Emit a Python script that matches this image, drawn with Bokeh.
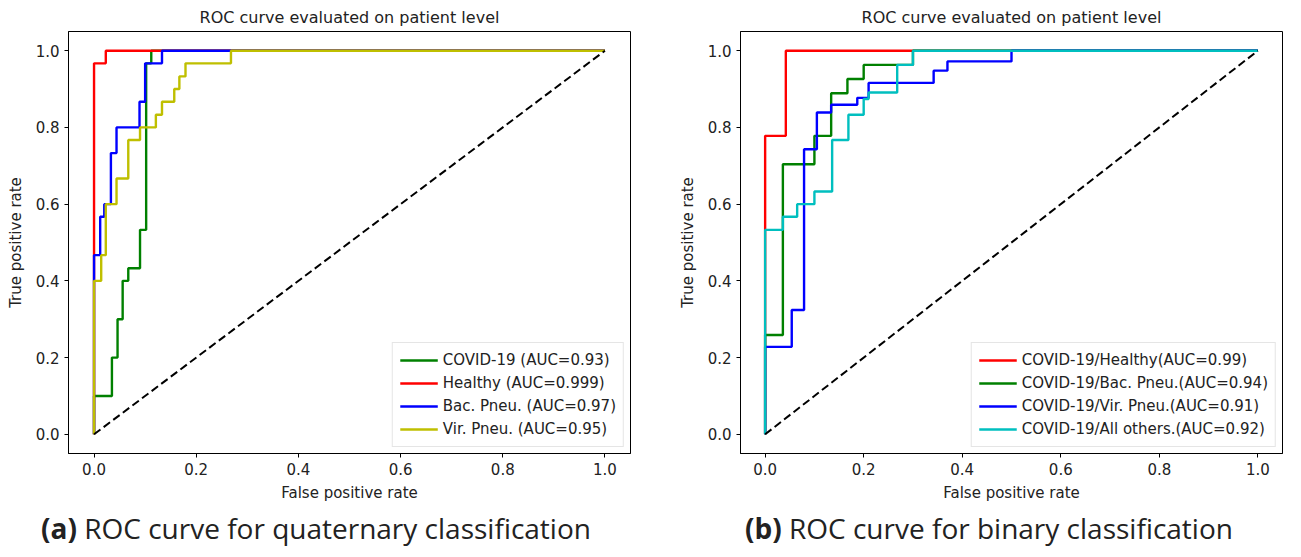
from bokeh.plotting import figure
from bokeh.models import Range1d, FixedTicker, PrintfTickFormatter, Div, Legend
from bokeh.layouts import row, column
from bokeh.embed import file_html
from bokeh.resources import INLINE

# ---------------- data: left panel (quaternary) ----------------
covid_fpr = [0, 0, 0.035, 0.035, 0.046, 0.046, 0.056, 0.056, 0.067, 0.067, 0.09, 0.09, 0.102, 0.102, 0.112, 0.112, 1]
covid_tpr = [0, 0.1, 0.1, 0.2, 0.2, 0.3, 0.3, 0.4, 0.4, 0.433, 0.433, 0.533, 0.533, 0.967, 0.967, 1, 1]

healthy_fpr = [0, 0, 0.023, 0.023, 1]
healthy_tpr = [0, 0.967, 0.967, 1, 1]

bac_fpr = [0, 0, 0.012, 0.012, 0.02, 0.02, 0.033, 0.033, 0.044, 0.044, 0.089, 0.089, 0.1, 0.1, 0.133, 0.133, 1]
bac_tpr = [0, 0.467, 0.467, 0.567, 0.567, 0.6, 0.6, 0.733, 0.733, 0.8, 0.8, 0.867, 0.867, 0.967, 0.967, 1, 1]

vir_fpr = [0, 0, 0.014, 0.014, 0.023, 0.023, 0.044, 0.044, 0.067, 0.067, 0.09, 0.09, 0.121, 0.121,
           0.133, 0.133, 0.157, 0.157, 0.167, 0.167, 0.179, 0.179, 0.268, 0.268, 1]
vir_tpr = [0, 0.4, 0.4, 0.467, 0.467, 0.6, 0.6, 0.667, 0.667, 0.767, 0.767, 0.8, 0.8, 0.833,
           0.833, 0.867, 0.867, 0.9, 0.9, 0.933, 0.933, 0.967, 0.967, 1, 1]

left_labels = ["COVID-19 (AUC=0.93)", "Healthy (AUC=0.999)", "Bac. Pneu. (AUC=0.97)", "Vir. Pneu. (AUC=0.95)"]

# ---------------- data: right panel (binary) ----------------
h2_fpr = [0, 0, 0.042, 0.042, 1]
h2_tpr = [0, 0.778, 0.778, 1, 1]

b2_fpr = [0, 0, 0.036, 0.036, 0.1, 0.1, 0.134, 0.134, 0.167, 0.167, 0.2, 0.2, 0.3, 0.3, 1]
b2_tpr = [0, 0.259, 0.259, 0.704, 0.704, 0.778, 0.778, 0.889, 0.889, 0.926, 0.926, 0.963, 0.963, 1, 1]

v2_fpr = [0, 0, 0.054, 0.054, 0.079, 0.079, 0.105, 0.105, 0.134, 0.134, 0.187, 0.187, 0.21, 0.21,
          0.342, 0.342, 0.37, 0.37, 0.5, 0.5, 1]
v2_tpr = [0, 0.228, 0.228, 0.324, 0.324, 0.743, 0.743, 0.839, 0.839, 0.859, 0.859, 0.877, 0.877, 0.916,
          0.916, 0.948, 0.948, 0.972, 0.972, 1, 1]

a2_fpr = [0, 0, 0.036, 0.036, 0.065, 0.065, 0.1, 0.1, 0.136, 0.136, 0.169, 0.169, 0.2, 0.2,
          0.21, 0.21, 0.268, 0.268, 0.3, 0.3, 1]
a2_tpr = [0, 0.533, 0.533, 0.567, 0.567, 0.6, 0.6, 0.633, 0.633, 0.767, 0.767, 0.833, 0.833, 0.874,
          0.874, 0.891, 0.891, 0.963, 0.963, 1, 1]

right_labels = ["COVID-19/Healthy(AUC=0.99)", "COVID-19/Bac. Pneu.(AUC=0.94)",
                "COVID-19/Vir. Pneu.(AUC=0.91)", "COVID-19/All others.(AUC=0.92)"]

diag = [0, 1]
ticks = [0.0, 0.2, 0.4, 0.6, 0.8, 1.0]

FONT = "DejaVu Sans"


def make_fig(width, border_left, border_right, series):
    p = figure(width=width, height=504, output_backend="svg", toolbar_location=None,
               x_range=Range1d(-0.05, 1.05), y_range=Range1d(-0.05, 1.05),
               min_border_left=border_left, min_border_right=border_right,
               min_border_top=12, min_border_bottom=10,
               title="ROC curve evaluated on patient level")
    p.title.align = "center"
    p.title.text_font = FONT
    p.title.text_font_style = "normal"
    p.title.text_font_size = "16px"
    p.title.text_color = "#222222"
    p.grid.visible = False
    p.outline_line_color = "black"
    p.outline_line_alpha = 1
    p.outline_line_width = 1
    for ax in (p.xaxis[0], p.yaxis[0]):
        ax.ticker = FixedTicker(ticks=ticks)
        ax.formatter = PrintfTickFormatter(format="%.1f")
        ax.minor_tick_line_color = None
        ax.major_tick_in = 0
        ax.major_tick_out = 4
        ax.major_label_text_font = FONT
        ax.major_label_text_font_size = "15px"
        ax.major_label_text_color = "#222222"
        ax.axis_label_text_font = FONT
        ax.axis_label_text_font_size = "15px"
        ax.axis_label_text_font_style = "normal"
        ax.axis_label_text_color = "#222222"
        ax.axis_line_color = "black"
    p.xaxis.axis_label = "False positive rate"
    p.yaxis.axis_label = "True positive rate"
    p.xaxis.axis_label_standoff = 6
    p.yaxis.axis_label_standoff = 8

    items = []
    for xs, ys, color, label in series:
        r = p.line(xs, ys, line_color=color, line_width=2.4)
        items.append((label, [r]))
    p.line(diag, diag, line_color="black", line_width=2, line_dash="8 4")
    leg = Legend(items=items, location="bottom_right")
    leg.label_text_font = FONT
    leg.label_text_font_size = "15px"
    leg.label_text_color = "#222222"
    leg.glyph_width = 38
    leg.glyph_height = 20
    leg.label_height = 20
    leg.spacing = 3
    leg.padding = 7
    leg.margin = 6
    leg.border_line_color = "#cccccc"
    leg.background_fill_alpha = 0.85
    p.add_layout(leg)
    return p


p1 = make_fig(660, 68, 30, [
    (covid_fpr, covid_tpr, "#008000", left_labels[0]),
    (healthy_fpr, healthy_tpr, "#ff0000", left_labels[1]),
    (bac_fpr, bac_tpr, "#0000ff", left_labels[2]),
    (vir_fpr, vir_tpr, "#bfbf00", left_labels[3]),
])

p2 = make_fig(625, 80, 3, [
    (h2_fpr, h2_tpr, "#ff0000", right_labels[0]),
    (b2_fpr, b2_tpr, "#008000", right_labels[1]),
    (v2_fpr, v2_tpr, "#0000ff", right_labels[2]),
    (a2_fpr, a2_tpr, "#00bfbf", right_labels[3]),
])

cap_style = {"font-family": "Open Sans", "font-size": "28px", "color": "#222222",
             "padding-top": "3px", "white-space": "nowrap", "line-height": "1.2"}
d1 = Div(text="<b>(a)</b> ROC curve for quaternary classification", width=660, height=37,
         styles=dict(cap_style, **{"padding-left": "36px"}))
d2 = Div(text="<b>(b)</b> ROC curve for binary classification", width=625, height=37,
         styles=dict(cap_style, **{"padding-left": "70px"}))

layout = column(row(p1, p2), row(d1, d2))
open("out.html", "w").write(file_html(layout, INLINE))
